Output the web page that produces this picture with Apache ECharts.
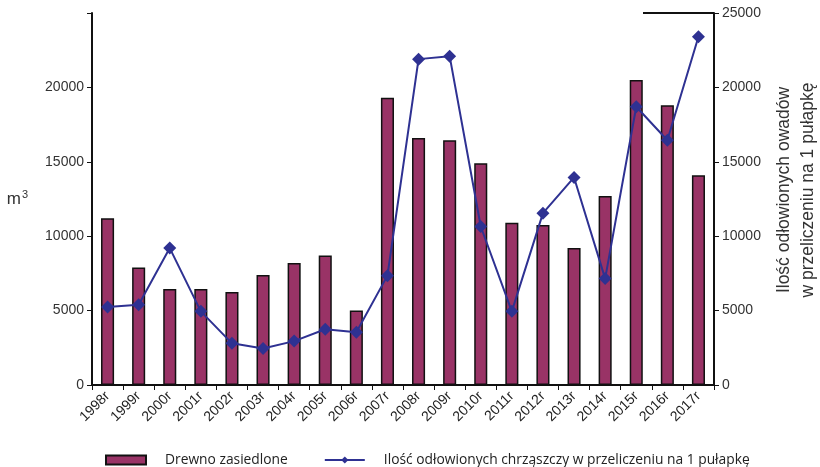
<!DOCTYPE html>
<html>
<head>
<meta charset="utf-8">
<script src="https://cdn.jsdelivr.net/npm/echarts@6/dist/echarts.min.js"></script>
<style>
  html, body { margin: 0; padding: 0; background: #fff; }
  #chart { width: 820px; height: 467px; }
</style>
</head>
<body>
<div id="chart"></div>
<script>
// lata
var years = ['1998r', '1999r', '2000r', '2001r', '2002r', '2003r', '2004r', '2005r', '2006r', '2007r',
  '2008r', '2009r', '2010r', '2011r', '2012r', '2013r', '2014r', '2015r', '2016r', '2017r']
// drewno zasiedlone (m3)
var drewno = [11200, 7900, 6450, 6450, 6250, 7400, 8200, 8700, 5000, 19300,
  16600, 16450, 14900, 10900, 10750, 9200, 12700, 20500, 18800, 14100]
// owady na 1 pulapke
var chrzaszcze = [5250, 5400, 9200, 4950, 2800, 2450, 2950, 3750, 3550, 7350,
  21900, 22100, 10650, 4950, 11550, 13950, 7150, 18700, 16450, 23400]
var leftTicks = [0, 5000, 10000, 15000, 20000]

var textCol = '#333'
var chart = echarts.init(document.getElementById('chart'))
var option = {
  animation: false,
  grid: { left: 92, right: 106, top: 13, bottom: 82, outerBoundsMode: 'none' },
  legend: {
    top: 448,
    left: 100,
    itemGap: 36,
    itemWidth: 40,
    itemHeight: 9,
    textStyle: { fontFamily: 'Open Sans', fontSize: 13.8, color: '#222', padding: [0, 0, 0, 14] },
    data: [
      { name: 'Drewno zasiedlone', icon: 'rect' },
      { name: 'Ilość odłowionych chrząszczy w przeliczeniu na 1 pułapkę' }
    ]
  },
  xAxis: {
    type: 'category',
    data: years,
    axisLine: { lineStyle: { color: '#111', width: 2 } },
    axisTick: { show: true, length: 5, lineStyle: { color: '#111' } },
    axisLabel: { rotate: 45, fontFamily: 'Liberation Sans', fontSize: 14, color: '#222', margin: 9 }
  },
  yAxis: [
    {
      type: 'value',
      min: 0,
      max: 25000,
      interval: 5000,
      name: '{a|m}{b|3}',
      nameLocation: 'middle',
      nameRotate: 0,
      nameGap: 64,
      nameTextStyle: {
        rich: {
          a: { fontFamily: 'Liberation Sans', fontSize: 17, color: textCol },
          b: { fontFamily: 'Liberation Sans', fontSize: 11, color: textCol, verticalAlign: 'top', padding: [0, 0, 8, 1] }
        }
      },
      axisLine: { show: true, lineStyle: { color: '#111', width: 2 } },
      axisTick: { show: true, length: 5, lineStyle: { color: '#111' } },
      splitLine: { show: false },
      axisLabel: {
        fontFamily: 'Liberation Sans', fontSize: 14, color: textCol, margin: 8,
        formatter: function (v) { return leftTicks.indexOf(v) >= 0 ? String(v) : '' }
      }
    },
    {
      type: 'value',
      min: 0,
      max: 25000,
      interval: 5000,
      position: 'right',
      name: 'Ilość odłowionych owadów\nw przeliczeniu na 1 pułapkę',
      nameLocation: 'middle',
      nameRotate: 90,
      nameGap: 58,
      nameTextStyle: { fontFamily: 'Liberation Sans', fontSize: 17.5, color: textCol, lineHeight: 24, padding: [0, 0, 0, 18] },
      axisLine: { show: true, lineStyle: { color: '#111', width: 2 } },
      axisTick: { show: true, length: 5, lineStyle: { color: '#111' } },
      splitLine: { show: false },
      axisLabel: {
        fontFamily: 'Liberation Sans', fontSize: 14, color: textCol, margin: 8,
        formatter: function (v) { return String(v) }
      }
    }
  ],
  series: [
    {
      name: 'Drewno zasiedlone',
      type: 'bar',
      yAxisIndex: 0,
      barWidth: '42%',
      itemStyle: { color: '#993366', borderColor: '#111', borderWidth: 1.5 },
      data: drewno
    },
    {
      name: 'Ilość odłowionych chrząszczy w przeliczeniu na 1 pułapkę',
      type: 'line',
      yAxisIndex: 1,
      symbol: 'diamond',
      symbolSize: 13,
      lineStyle: { color: '#2e3192', width: 2 },
      itemStyle: { color: '#2e3192' },
      data: chrzaszcze
    }
  ],
  graphic: [
    {
      type: 'line',
      shape: { x1: 643, y1: 13, x2: 714, y2: 13 },
      style: { stroke: '#111', lineWidth: 2 }
    }
  ]
}
chart.setOption(option)
</script>
</body>
</html>
